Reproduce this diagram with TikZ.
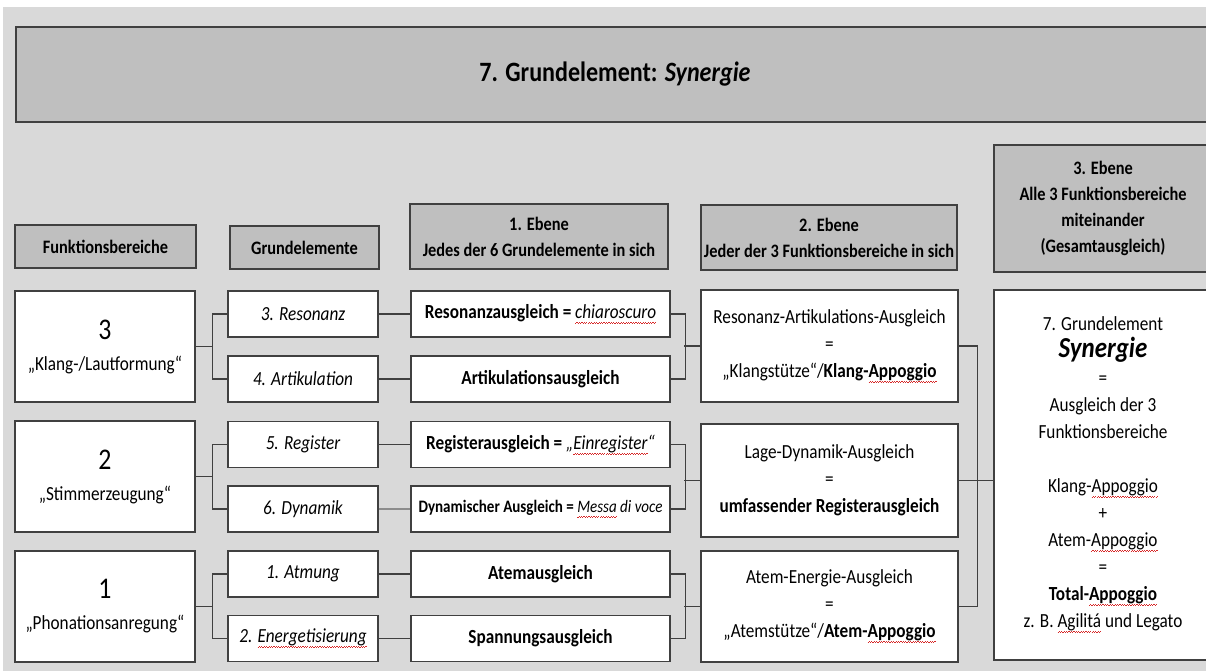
\documentclass[tikz,border=0pt]{standalone}
\usepackage{fontspec}
\setmainfont{Carlito}[FakeStretch=0.86]
\usepackage{xcolor}
\usetikzlibrary{positioning,calc}
\definecolor{bggray}{RGB}{217,217,217}
\definecolor{headgray}{RGB}{191,191,191}
\definecolor{linegray}{RGB}{64,64,64}
\definecolor{spellred}{RGB}{215,40,40}

% rote Wellenlinie (Rechtschreibprüfung)
\newsavebox\wavebox
\newcommand\spellwave[1]{\sbox\wavebox{#1}\makebox[0pt][l]{\textcolor{spellred}{\xleaders\hbox{\rule[-5pt]{1.2pt}{0.7pt}\rule[-4pt]{1.2pt}{0.7pt}}\hskip\wd\wavebox}}\usebox\wavebox}

\begin{document}
\begin{tikzpicture}[x=1pt, y=-1pt,
		box/.style={draw=linegray, line width=1.4pt, fill=white, align=center, inner sep=0pt,
			font=\fontsize{20}{27}\selectfont},
		head/.style={box, fill=headgray, font=\bfseries\fontsize{19}{26}\selectfont},
		link/.style={draw=linegray, line width=1.4pt},
		linklight/.style={draw=linegray!60, line width=1.4pt}
		]
		
		% ===== Hintergrund =====
		\useasboundingbox (0,0) rectangle (1206,670);
		\fill[bggray] (3,7) rectangle (1212,676);
		
		% ===== Titel =====
		\node[head, minimum width=1198pt, minimum height=95pt, line width=2pt,
		font=\bfseries\fontsize{28}{30}\selectfont] (titel) at (615,74.5)
		{7. Grundelement: \textit{Synergie}};
		
		% ===== Spaltenköpfe =====
		\node[head, minimum width=181pt, minimum height=43pt] (hFB) at (105.5,246.5) {Funktionsbereiche};
		\node[head, minimum width=149pt, minimum height=43pt] (hGE) at (304.5,247.5) {Grundelemente};
		\node[head, minimum width=258pt, minimum height=65pt] (hE1) at (539,236.5)
		{1. Ebene\\Jedes der 6 Grundelemente in sich};
		\node[head, minimum width=256pt, minimum height=65pt] (hE2) at (829,237.5)
		{2. Ebene\\Jeder der 3 Funktionsbereiche in sich};
		\node[head, minimum width=218pt, minimum height=127pt] (hE3) at (1103,208.5)
		{3. Ebene\\Alle 3 Funktionsbereiche\\miteinander\\(Gesamtausgleich)};
		
		% ===== Funktionsbereiche =====
		\foreach \n/\t/\y [count=\i from 1] in {3/{„Klang-/Lautformung“}/346.5,
			2/{„Stimmerzeugung“}/476.5, 1/{„Phonationsanregung“}/606.5}{
			\node[box, minimum width=180pt, minimum height=111pt] (FB\i) at (105,\y)
			{{\fontsize{30}{30}\selectfont \n}\\[4pt]\t};
		}
		
		% ===== Grundelemente =====
		\foreach \t/\y [count=\i from 1] in {{3. Resonanz}/314, {4. Artikulation}/379,
			{5. Register}/444.5, {6. Dynamik}/509, {1. Atmung}/574,
			{2. \spellwave{Energetisierung}}/638.5}{
			\node[box, minimum width=150pt, minimum height=46pt,
			font=\itshape\fontsize{20}{27}\selectfont] (GE\i) at (303,\y) {\t};
		}
		
		% ===== 1. Ebene =====
		\foreach \t/\y [count=\i from 1] in {
			{\textbf{Resonanzausgleich =} \textit{\spellwave{chiaroscuro}}}/314,
			{\textbf{Artikulationsausgleich}}/379,
			{\textbf{Registerausgleich =} \textit{„\spellwave{Einregister}“}}/444.5,
			{\fontsize{17.5}{20}\selectfont\textbf{Dynamischer Ausgleich =} \textit{\spellwave{Messa} di voce}}/509,
			{\textbf{Atemausgleich}}/574,
			{\textbf{Spannungsausgleich}}/638.5}{
			\node[box, minimum width=259pt, minimum height=46pt] (EA\i) at (540.5,\y) {\t};
		}
		
		% ===== 2. Ebene =====
		\node[box, minimum width=257pt, minimum height=112pt] (EB1) at (829.5,346)
		{Resonanz-Artikulations-Ausgleich\\=\\„Klangstütze“/\textbf{Klang-\spellwave{Appoggio}}};
		\node[box, minimum width=257pt, minimum height=113pt] (EB2) at (829.5,480.5)
		{Lage-Dynamik-Ausgleich\\=\\\textbf{umfassender Registerausgleich}};
		\node[box, minimum width=257pt, minimum height=111pt] (EB3) at (829.5,606.5)
		{Atem-Energie-Ausgleich\\=\\„Atemstütze“/\textbf{Atem-\spellwave{Appoggio}}};
		
		% ===== 3. Ebene =====
		\node[box, minimum width=218pt, minimum height=370pt] (GB) at (1103,475)
		{7. Grundelement\\
			{\fontsize{29}{30}\selectfont\bfseries\itshape Synergie}\\
			=\\
			Ausgleich der 3\\
			Funktionsbereiche\\[27pt]
			Klang-\spellwave{Appoggio}\\
			+\\
			Atem-\spellwave{Appoggio}\\
			=\\
			\textbf{Total-\spellwave{Appoggio}}\\
			z. B. \spellwave{Agilitá} und Legato};
		
		% ===== Verbindungen =====
		\foreach \i/\a/\b in {1/1/2, 2/3/4, 3/5/6}{
			\draw[link] (FB\i.east) -- ++(17,0) coordinate (k\i) |- (GE\a.west);
			\draw[link] (k\i) |- (GE\b.west);
			\draw[link] (EA\a.east) -- ++(15,0) |- (EA\b.east);
			\draw[link] (EB\i.west) -- ++(-16,0);
		}
		\foreach \i in {1,2,3,5,6}{
			\draw[link] (GE\i.east) -- (EA\i.west);
		}
		\draw[linklight] (GE4.east) -- (EA4.west);
		
		\draw[link] (EB1.east) -- ++(19,0) |- (EB3.east);
		\draw[link] (EB2.east) -- (EB2.east -| GB.west);
		
	\end{tikzpicture}
\end{document}
